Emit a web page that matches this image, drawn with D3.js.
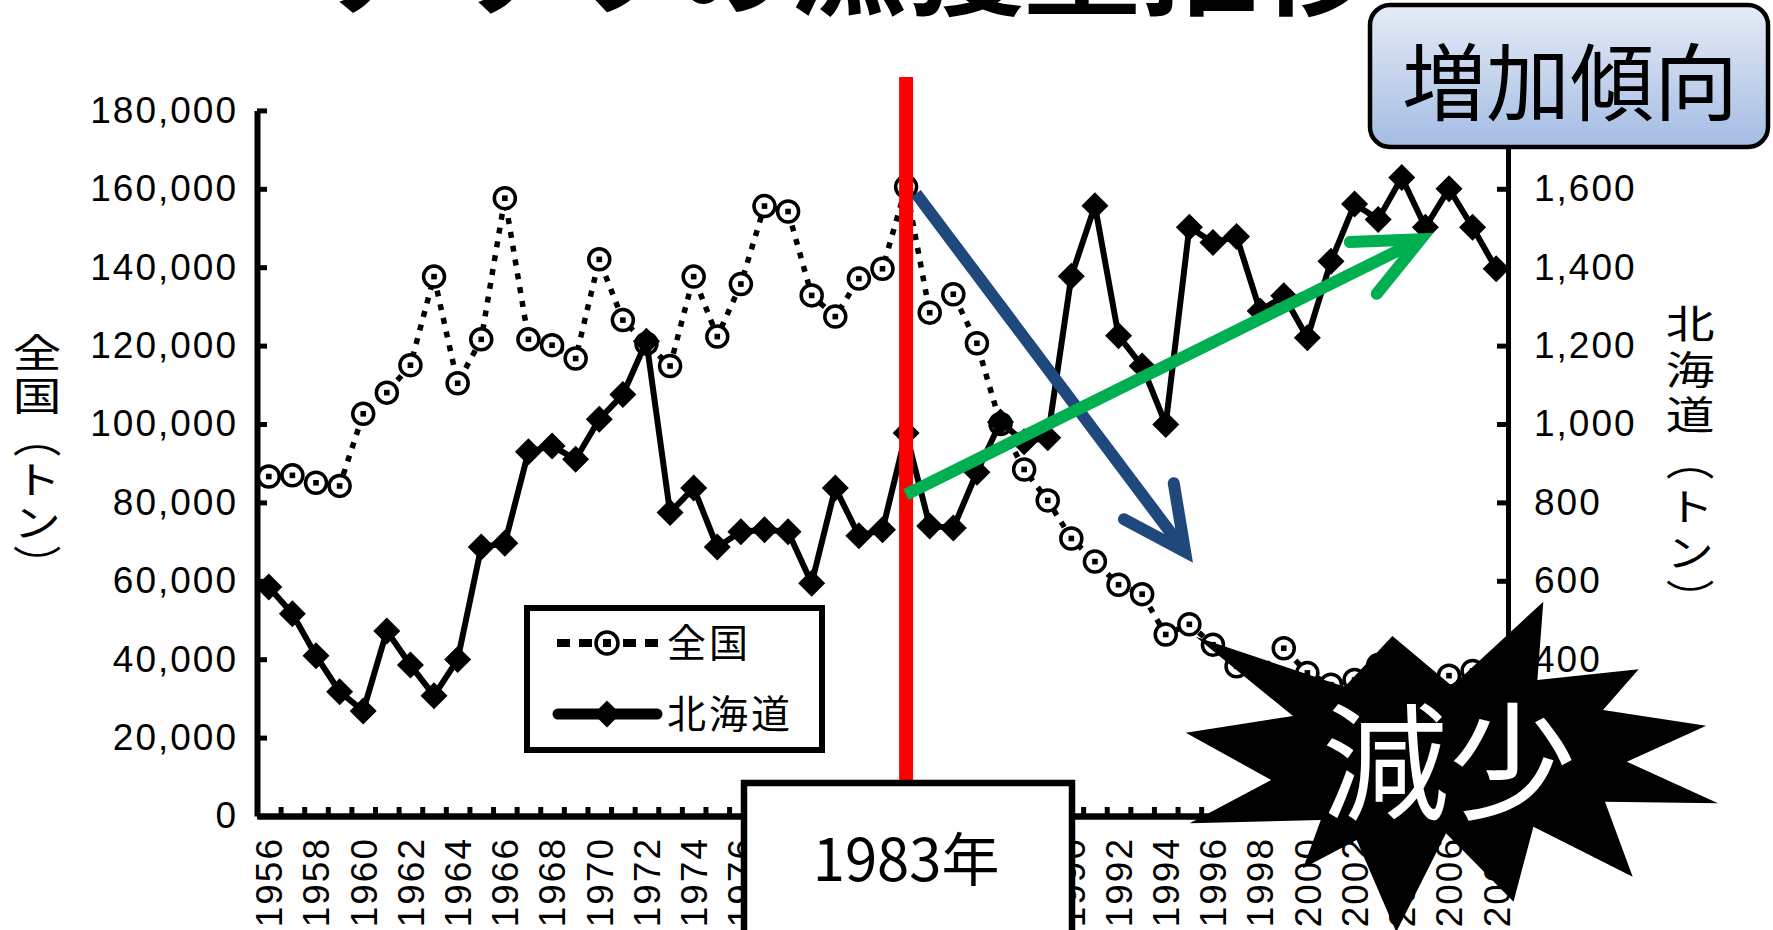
<!DOCTYPE html>
<html>
<head>
<meta charset="utf-8">
<script src="https://cdn.jsdelivr.net/npm/d3@7"></script>
<style>
  body { margin: 0; background: #fff; overflow: hidden; }
  svg { display: block; }
</style>
</head>
<body>
<svg id="chart" width="1773" height="930"></svg>
<script>
// ---- data (tons) ----
const years = [1956, 1957, 1958, 1959, 1960, 1961, 1962, 1963, 1964, 1965,
  1966, 1967, 1968, 1969, 1970, 1971, 1972, 1973, 1974, 1975,
  1976, 1977, 1978, 1979, 1980, 1981, 1982, 1983, 1984, 1985,
  1986, 1987, 1988, 1989, 1990, 1991, 1992, 1993, 1994, 1995,
  1996, 1997, 1998, 1999, 2000, 2001, 2002, 2003, 2004, 2005,
  2006, 2007, 2008];

const zenkoku = [86600, 86900, 85000, 84200, 102600, 108000, 115000, 137600, 110400, 121600,
  157600, 121600, 120100, 116700, 142000, 126500, 120500, 114800, 137600, 122300,
  135700, 155600, 154200, 132800, 127400, 137100, 139600, 160500, 128400, 133100,
  120600, 100000, 88400, 80500, 70800, 64900, 59000, 56600, 46300, 48900,
  43700, 38200, 36500, 42800, 36500, 33500, 34700, 38500, 33000, 34000,
  35800, 37000, 35500];

const hokkaido = [584, 516, 409, 317, 268, 472, 385, 307, 399, 686,
  696, 929, 944, 910, 1012, 1075, 1211, 774, 837, 686,
  725, 730, 725, 594, 837, 715, 730, 977, 740, 735,
  877, 1005, 955, 965, 1377, 1557, 1225, 1148, 999, 1502,
  1463, 1478, 1288, 1327, 1220, 1415, 1561, 1522, 1629, 1502,
  1600, 1502, 1396];

const leftTicks = [0, 20000, 40000, 60000, 80000, 100000, 120000, 140000, 160000, 180000];
const rightTicks = [0, 200, 400, 600, 800, 1000, 1200, 1400, 1600, 1800];
const yearLabels = [1956, 1958, 1960, 1962, 1964, 1966, 1968, 1970, 1972, 1974,
  1976, 1978, 1980, 1982, 1984, 1986, 1988, 1990, 1992, 1994,
  1996, 1998, 2000, 2002, 2004, 2006, 2008];

const seriesNames = ["全国", "北海道"];
const title = "アサリの漁獲量推移";
const leftTitle = "全国（トン）";
const rightTitle = "北海道（トン）";
const markYear = 1983;
const markLabel = "1983年";
const upLabel = "増加傾向";
const downLabel = "減少";

// ---- layout ----
const svg = d3.select("#chart");
const plotLeft = 257, plotRight = 1508, plotTop = 110.4, plotBottom = 816;
const JP = "'Noto Sans CJK JP', 'Noto Sans CJK SC', sans-serif";
const NUM = "'Liberation Sans', Arial, sans-serif";

const x = d3.scaleBand().domain(years).range([plotLeft, plotRight]).padding(0);
const bw = x.bandwidth();
const cx = d => x(d) + bw / 2;
const yL = d3.scaleLinear().domain([0, 180000]).range([plotBottom, plotTop]);
const yR = d3.scaleLinear().domain([0, 1800]).range([plotBottom, plotTop]);
// continuous year position, for the hand-drawn arrows
const xYear = d3.scaleLinear()
  .domain([years[0], years[years.length - 1]])
  .range([cx(years[0]), cx(years[years.length - 1])]);

// title (cut off at the top of the slide)
svg.append("text")
  .attr("x", 848).attr("y", 6)
  .attr("text-anchor", "middle")
  .attr("font-family", JP).attr("font-weight", 700).attr("font-size", 117)
  .text(title);

// left axis
const gL = svg.append("g").attr("transform", `translate(${plotLeft},0)`)
  .call(d3.axisLeft(yL).tickValues(leftTicks).tickFormat(d3.format(","))
    .tickSizeInner(-10).tickSizeOuter(0).tickPadding(19));
gL.attr("font-family", NUM);
gL.select(".domain").attr("stroke-width", 6);
gL.selectAll(".tick line").attr("stroke-width", 5);
gL.selectAll(".tick text").attr("font-size", 37).attr("letter-spacing", 2).attr("fill", "#000");

// right axis
const gR = svg.append("g").attr("transform", `translate(${plotRight},0)`)
  .call(d3.axisRight(yR).tickValues(rightTicks).tickFormat(d3.format(","))
    .tickSizeInner(-11).tickSizeOuter(0).tickPadding(26));
gR.attr("font-family", NUM);
gR.select(".domain").attr("stroke-width", 5);
gR.selectAll(".tick line").attr("stroke-width", 5);
gR.selectAll(".tick text").attr("font-size", 37).attr("letter-spacing", 2).attr("fill", "#000");

// bottom axis: tick marks between categories
const xIdx = d3.scaleLinear().domain([0, years.length]).range([plotLeft, plotRight]);
const gB = svg.append("g").attr("transform", `translate(0,${plotBottom})`)
  .call(d3.axisBottom(xIdx).tickValues(d3.range(1, years.length))
    .tickSizeInner(-9).tickSizeOuter(0).tickFormat(""));
gB.select(".domain").attr("stroke-width", 6.5);
gB.selectAll(".tick line").attr("stroke-width", 5);

// year labels, rotated
const gX = svg.append("g").attr("transform", `translate(0,${plotBottom})`)
  .call(d3.axisBottom(x).tickValues(yearLabels).tickSize(0).tickPadding(0));
gX.attr("font-family", NUM);
gX.select(".domain").remove();
gX.selectAll(".tick text")
  .attr("transform", "rotate(-90)")
  .attr("text-anchor", "end")
  .attr("x", -21).attr("y", 0).attr("dy", "0.36em")
  .attr("font-size", 37).attr("letter-spacing", 2).attr("fill", "#000");

// axis titles (vertical)
svg.append("text")
  .attr("transform", "translate(37,460) scale(1.25,1)")
  .attr("text-anchor", "middle")
  .attr("font-family", JP).attr("font-size", 39).attr("letter-spacing", 3.3)
  .style("writing-mode", "vertical-rl")
  .text(leftTitle);
svg.append("text")
  .attr("transform", "translate(1690,464) scale(1.25,1)")
  .attr("text-anchor", "middle")
  .attr("font-family", JP).attr("font-size", 39).attr("letter-spacing", 6.9)
  .style("writing-mode", "vertical-rl")
  .text(rightTitle);

// 全国 series: dotted line + circles
const lineZ = d3.line().x((d, i) => cx(years[i])).y(d => yL(d));
svg.append("path").datum(zenkoku)
  .attr("d", lineZ).attr("fill", "none")
  .attr("stroke", "#000").attr("stroke-width", 5.5).attr("stroke-dasharray", "6 8");
const gZ = svg.append("g");
gZ.selectAll("circle").data(zenkoku).join("circle")
  .attr("cx", (d, i) => cx(years[i])).attr("cy", d => yL(d))
  .attr("r", 10.5).attr("fill", "#fff").attr("stroke", "#000").attr("stroke-width", 3.5);
gZ.selectAll("rect").data(zenkoku).join("rect")
  .attr("x", (d, i) => cx(years[i]) - 2.8).attr("y", d => yL(d) - 2.8)
  .attr("width", 5.6).attr("height", 5.6).attr("fill", "#000");

// 北海道 series: solid line + diamonds
const diamond = "M0,-13.5L13.5,0L0,13.5L-13.5,0Z";
const lineH = d3.line().x((d, i) => cx(years[i])).y(d => yR(d));
svg.append("path").datum(hokkaido)
  .attr("d", lineH).attr("fill", "none")
  .attr("stroke", "#000").attr("stroke-width", 6).attr("stroke-linejoin", "round");
svg.append("g").selectAll("path").data(hokkaido).join("path")
  .attr("d", diamond)
  .attr("transform", (d, i) => `translate(${cx(years[i])},${yR(d)})`)
  .attr("fill", "#000");

// legend
const lg = svg.append("g");
lg.append("rect").attr("x", 527).attr("y", 608).attr("width", 295).attr("height", 142)
  .attr("fill", "#fff").attr("stroke", "#000").attr("stroke-width", 6);
lg.append("line").attr("x1", 557).attr("x2", 660).attr("y1", 643).attr("y2", 643)
  .attr("stroke", "#000").attr("stroke-width", 8).attr("stroke-dasharray", "13 9");
lg.append("circle").attr("cx", 607).attr("cy", 643).attr("r", 11)
  .attr("fill", "#fff").attr("stroke", "#000").attr("stroke-width", 3.5);
lg.append("rect").attr("x", 603).attr("y", 639).attr("width", 8).attr("height", 8).attr("fill", "#000");
lg.append("line").attr("x1", 558).attr("x2", 657).attr("y1", 714).attr("y2", 714)
  .attr("stroke", "#000").attr("stroke-width", 11).attr("stroke-linecap", "round");
lg.append("path").attr("d", diamond).attr("transform", "translate(607,714)").attr("fill", "#000");
lg.selectAll("text.lgt").data(seriesNames).join("text")
  .attr("class", "lgt")
  .attr("x", 667).attr("y", (d, i) => 643 + i * 71)
  .attr("dy", "0.36em")
  .attr("font-family", JP).attr("font-size", 39).attr("letter-spacing", 3)
  .text(d => d);

// red marker line at 1983
svg.append("line")
  .attr("x1", cx(markYear)).attr("x2", cx(markYear))
  .attr("y1", 77).attr("y2", 785)
  .attr("stroke", "#ff0000").attr("stroke-width", 14);

// arrows (end points in data units)
function arrow(color, from, to, arm1, arm2) {
  const g = svg.append("g").attr("stroke", color).attr("stroke-width", 12).attr("fill", "none");
  const p = d => [xYear(d[0]), yL(d[1])];
  g.append("path").attr("d", d3.line()([p(from), p(to)]));
  g.append("path").attr("d", d3.line()([p(arm1), p(to), p(arm2)]))
    .attr("stroke-linecap", "round").attr("stroke-linejoin", "miter");
}
arrow("#1f497d", [1983.42, 158800], [1994.82, 67400], [1994.34, 84900], [1992.23, 75700]);
arrow("#00b050", [1982.99, 82000], [2004.8, 147100], [2001.8, 146400], [2002.94, 133200]);

// 1983年 box
svg.append("rect").attr("x", 744).attr("y", 783).attr("width", 328).attr("height", 200)
  .attr("fill", "#fff").attr("stroke", "#000").attr("stroke-width", 6.5);
svg.append("text")
  .attr("x", cx(markYear)).attr("y", 881)
  .attr("text-anchor", "middle")
  .attr("font-family", JP).attr("font-size", 58)
  .text(markLabel);

// explosion callout
const burst = [[1185.8, 732.7], [1293, 716], [1195.7, 636.7], [1344.7, 686.7], [1392.4, 636],
  [1452, 686], [1543.3, 601.7], [1537.4, 680], [1638.7, 669.3], [1603, 710],
  [1706.2, 725.7], [1626.8, 761.7], [1718, 803.3], [1605, 801.7], [1632.7, 876.7],
  [1533.4, 826.7], [1513.5, 901.7], [1446, 833.3], [1396.3, 932], [1356.6, 840],
  [1303, 868.3], [1320.8, 820], [1189.7, 823.3], [1271.2, 780]];
svg.append("path").attr("d", d3.line().curve(d3.curveLinearClosed)(burst)).attr("fill", "#000");
svg.append("text")
  .attr("x", 1449).attr("y", 755)
  .attr("text-anchor", "middle").attr("dominant-baseline", "central")
  .attr("font-family", JP).attr("font-size", 127).attr("fill", "#fff")
  .text(downLabel);

// 増加傾向 box
const defs = svg.append("defs");
const grad = defs.append("linearGradient").attr("id", "blueGrad")
  .attr("x1", 0).attr("y1", 0).attr("x2", 0).attr("y2", 1);
grad.append("stop").attr("offset", "0%").attr("stop-color", "#e6ebf6");
grad.append("stop").attr("offset", "100%").attr("stop-color", "#a3bce4");
svg.append("rect").attr("x", 1370).attr("y", 5).attr("width", 398).attr("height", 142)
  .attr("rx", 20).attr("fill", "url(#blueGrad)").attr("stroke", "#000").attr("stroke-width", 4.5);
svg.append("text")
  .attr("x", 1570).attr("y", 77)
  .attr("text-anchor", "middle").attr("dominant-baseline", "central")
  .attr("font-family", JP).attr("font-size", 84)
  .text(upLabel);
</script>
</body>
</html>
